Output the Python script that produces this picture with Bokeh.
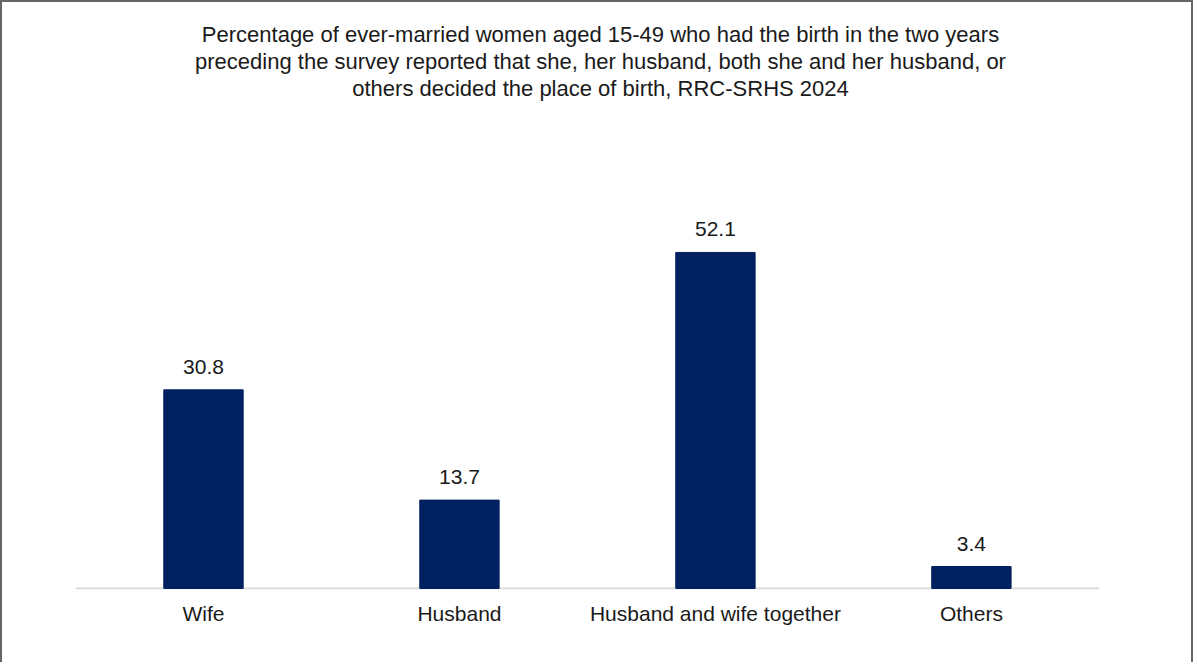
from bokeh.plotting import figure
from bokeh.models import Range1d, Title, ColumnDataSource, FixedTicker
from bokeh.core.properties import value
from bokeh.embed import file_html
from bokeh.resources import INLINE

categories = ["Wife", "Husband", "Husband and wife together", "Others"]
values = [30.8, 13.7, 52.1, 3.4]
labels = ["30.8", "13.7", "52.1", "3.4"]
title_lines = [
    "Percentage of ever-married women aged 15-49 who had the birth in the two years",
    "preceding the survey reported that she, her husband, both she and her husband, or",
    "others decided the place of birth, RRC-SRHS 2024",
]

FONT = "Liberation Sans"
BAR = "#002060"
W, H = 1193, 662
LEFT, RIGHT, TOP, BOTTOM = 73, 70, 199, 75

n = len(categories)
idx = list(range(n))
src = ColumnDataSource(dict(x=idx, val=values, lab=labels))

p = figure(
    x_range=Range1d(-0.5, n - 0.5 + 0.102), y_range=Range1d(-0.16, 60),
    width=W, height=H, output_backend="svg", toolbar_location=None,
    min_border_left=LEFT, min_border_right=RIGHT, min_border_bottom=BOTTOM,
    min_border_top=TOP, title=None,
)
p.styles = {"border-top": "2px solid #666666", "border-left": "2px solid #666666",
            "border-right": "2px solid #666666"}

# spacer between the title block and the plot frame
p.add_layout(Title(text=" ", align="center", text_font=FONT, text_font_size="22px",
                   standoff=74), "above")
for line in reversed(title_lines):
    p.add_layout(Title(text=line, align="center", text_font=FONT, text_font_size="22px",
                       text_font_style="normal", text_color="#1a1a1a", standoff=0), "above")

# baseline
p.segment(x0=[-0.5], x1=[n - 0.5], y0=[0], y1=[0], line_color="#d9d9d9", line_width=2)

p.vbar(x="x", top="val", bottom=0, width=0.31, source=src, fill_color=BAR, line_color=BAR)
p.text(x="x", y="val", text="lab", source=src, y_offset=-16,
       text_align="center", text_baseline="bottom",
       text_font=value(FONT), text_font_size="21px", text_color="#1a1a1a")

p.yaxis.visible = False
p.xgrid.grid_line_color = None
p.ygrid.grid_line_color = None
p.outline_line_color = None
p.xaxis.ticker = FixedTicker(ticks=idx)
p.xaxis.major_label_overrides = {i: c for i, c in enumerate(categories)}
p.xaxis.axis_line_color = None
p.xaxis.major_tick_line_color = None
p.xaxis.minor_tick_line_color = None
p.xaxis.major_label_text_font = FONT
p.xaxis.major_label_text_font_size = "21px"
p.xaxis.major_label_text_color = "#1a1a1a"
p.xaxis.major_label_standoff = 6

open("out.html", "w").write(file_html(p, INLINE))
